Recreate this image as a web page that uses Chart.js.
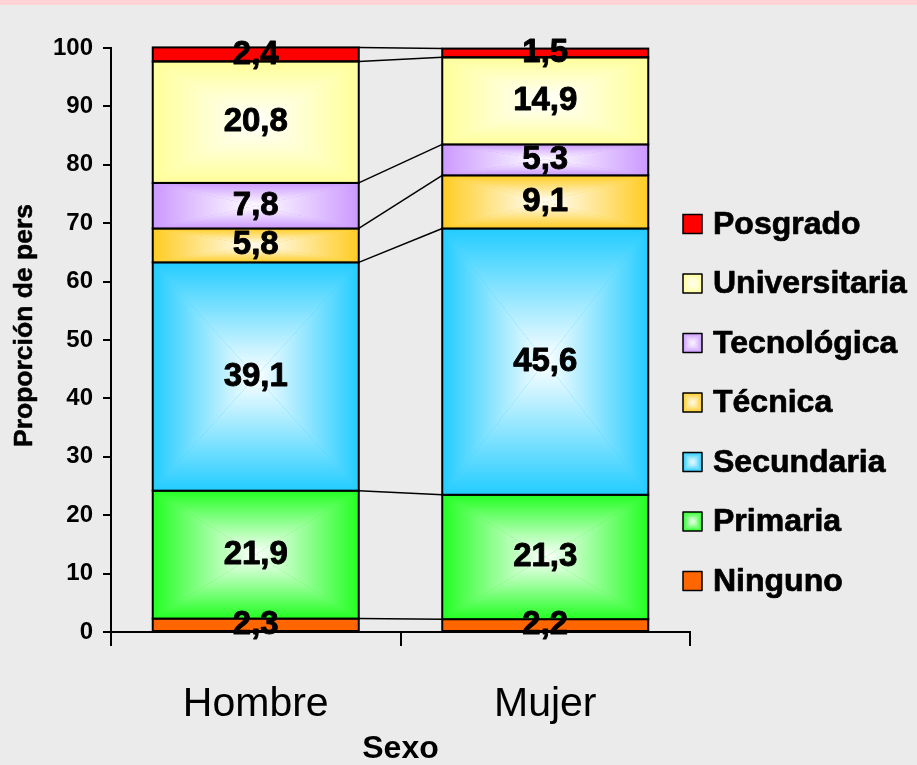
<!DOCTYPE html>
<html>
<head>
<meta charset="utf-8">
<script src="https://cdn.jsdelivr.net/npm/chart.js@4.4.0/dist/chart.umd.min.js"></script>
<style>
  html, body { margin: 0; padding: 0; background: #ebebeb; }
  #wrap { width: 917px; height: 765px; }
</style>
</head>
<body>
<div id="wrap"><canvas id="myChart" width="917" height="765"></canvas></div>
<script>
const categories = ['Hombre', 'Mujer'];
const niveles = ['Ninguno', 'Primaria', 'Secundaria', 'Técnica', 'Tecnológica', 'Universitaria', 'Posgrado'];
const hombre = [2.3, 21.9, 39.1, 5.8, 7.8, 20.8, 2.4];
const mujer = [2.2, 21.3, 45.6, 9.1, 5.3, 14.9, 1.5];
const colores = ['#FF6600', '#22FF22', '#22CCFF', '#FFCC22', '#CC99FF', '#FFFF99', '#FF0000'];
const degradado = [false, true, true, true, true, true, false];
const yTicks = [0, 10, 20, 30, 40, 50, 60, 70, 80, 90, 100];
const yTitle = 'Proporción de personas';
const xTitle = 'Sexo';

const FONT = "'Liberation Sans', Arial, sans-serif";

// rectangular "from centre" gradient: white in the middle, colour at the edges
function rectGradient(ctx, x0, y0, x1, y1, color) {
  const cx = (x0 + x1) / 2, cy = (y0 + y1) / 2;
  ctx.fillStyle = color;
  ctx.fillRect(x0, y0, x1 - x0, y1 - y0);
  const tris = [
    [x0, y0, x1, y0, cx, y0],
    [x1, y1, x0, y1, cx, y1],
    [x0, y1, x0, y0, x0, cy],
    [x1, y0, x1, y1, x1, cy]
  ];
  tris.forEach(t => {
    const g = ctx.createLinearGradient(cx, cy, t[4], t[5]);
    g.addColorStop(0, '#ffffff');
    g.addColorStop(1, color);
    ctx.fillStyle = g;
    ctx.beginPath();
    ctx.moveTo(cx, cy);
    ctx.lineTo(t[0], t[1]);
    ctx.lineTo(t[2], t[3]);
    ctx.closePath();
    ctx.fill();
  });
}

// bold text with a little extra weight, like the original rendering
function heavyText(ctx, txt, x, y, w) {
  ctx.lineWidth = w;
  ctx.strokeStyle = '#000';
  ctx.lineJoin = 'round';
  ctx.strokeText(txt, x, y);
  ctx.fillText(txt, x, y);
}

const fondo = {
  id: 'fondo',
  beforeDraw(chart) {
    const {ctx, width, height} = chart;
    ctx.save();
    ctx.fillStyle = '#ebebeb';
    ctx.fillRect(0, 0, width, height);
    ctx.fillStyle = '#ffd3d3';
    ctx.fillRect(0, 0, width, 5);
    ctx.restore();
  }
};

const barras = {
  id: 'barras',
  afterDatasetsDraw(chart) {
    const {ctx} = chart;
    ctx.save();
    // gradient fill + outline on each segment
    chart.data.datasets.forEach((ds, di) => {
      const meta = chart.getDatasetMeta(di);
      meta.data.forEach(bar => {
        const {x, y, base, width} = bar.getProps(['x', 'y', 'base', 'width'], true);
        const x0 = x - width / 2, x1 = x + width / 2;
        const top = Math.min(y, base), bot = Math.max(y, base);
        if (degradado[di]) rectGradient(ctx, x0, top, x1, bot, colores[di]);
        ctx.strokeStyle = '#000';
        ctx.lineWidth = 2;
        ctx.strokeRect(x0, top, x1 - x0, bot - top);
      });
    });
    // series lines between the two columns
    ctx.strokeStyle = '#000';
    ctx.lineWidth = 1.5;
    chart.data.datasets.forEach((ds, di) => {
      const d = chart.getDatasetMeta(di).data;
      const a = d[0], b = d[1];
      ctx.beginPath();
      ctx.moveTo(a.x + a.width / 2, a.y);
      ctx.lineTo(b.x - b.width / 2, b.y);
      ctx.stroke();
    });
    // value labels
    ctx.fillStyle = '#000';
    ctx.font = 'bold 33px ' + FONT;
    ctx.textAlign = 'center';
    ctx.textBaseline = 'middle';
    chart.data.datasets.forEach((ds, di) => {
      chart.getDatasetMeta(di).data.forEach((bar, i) => {
        const txt = ds.data[i].toFixed(1).replace('.', ',');
        heavyText(ctx, txt, bar.x, (bar.y + bar.base) / 2, 0.9);
      });
    });
    ctx.restore();
  }
};

const leyenda = {
  id: 'leyenda',
  afterDraw(chart) {
    const {ctx} = chart;
    ctx.save();
    const n = chart.data.datasets.length;
    for (let k = 0; k < n; k++) {
      const di = n - 1 - k;
      const cy = 224 + 59.5 * k;
      const bx = 683, bs = 19;
      if (degradado[di]) rectGradient(ctx, bx, cy - bs / 2, bx + bs, cy + bs / 2, colores[di]);
      else { ctx.fillStyle = colores[di]; ctx.fillRect(bx, cy - bs / 2, bs, bs); }
      ctx.strokeStyle = '#000';
      ctx.lineWidth = 1.5;
      ctx.strokeRect(bx, cy - bs / 2, bs, bs);
      ctx.fillStyle = '#000';
      ctx.font = 'bold 32px ' + FONT;
      ctx.textAlign = 'left';
      ctx.textBaseline = 'middle';
      heavyText(ctx, chart.data.datasets[di].label, 713, cy + 1, 0.7);
    }
    // y axis title, truncated at the top as in the original
    ctx.beginPath();
    ctx.rect(0, 205, 60, 400);
    ctx.clip();
    ctx.translate(32, 447);
    ctx.rotate(-Math.PI / 2);
    ctx.fillStyle = '#000';
    ctx.font = 'bold 26.5px ' + FONT;
    ctx.textAlign = 'left';
    ctx.textBaseline = 'alphabetic';
    heavyText(ctx, yTitle, 0, 0, 0.5);
    ctx.restore();
  }
};

const datasets = niveles.map((nivel, i) => ({
  label: nivel,
  data: [hombre[i], mujer[i]],
  backgroundColor: colores[i],
  borderWidth: 0,
  categoryPercentage: 1,
  barPercentage: 0.7116
}));

const config = {
  type: 'bar',
  data: { labels: categories, datasets },
  options: {
    responsive: false,
    animation: false,
    layout: { padding: { top: 48, right: 227, left: 0, bottom: 0 } },
    plugins: {
      legend: { display: false },
      tooltip: { enabled: false }
    },
    scales: {
      x: {
        stacked: true,
        offset: true,
        grid: { drawOnChartArea: false, offset: true, tickLength: 14, color: '#000', lineWidth: 2 },
        border: { color: '#000', width: 2 },
        ticks: { color: '#000', padding: 38, font: { family: FONT, size: 41, lineHeight: 1 } },
        title: {
          display: true, text: xTitle, color: '#000',
          font: { family: FONT, size: 32, weight: 'bold', lineHeight: 1 },
          padding: { top: 0, bottom: 0 }
        },
        afterFit(scale) { scale.height = 133; }
      },
      y: {
        stacked: true,
        min: 0,
        max: 100,
        afterBuildTicks(scale) { scale.ticks = yTicks.map(v => ({ value: v })); },
        grid: { drawOnChartArea: false, tickLength: 8, color: '#000', lineWidth: 2 },
        border: { color: '#000', width: 2 },
        ticks: { color: '#000', padding: 10, font: { family: FONT, size: 24, weight: 'bold' } },
        afterFit(scale) { scale.width = 111; }
      }
    }
  },
  plugins: [fondo, barras, leyenda]
};

const myChart = new Chart(document.getElementById('myChart'), config);
</script>
</body>
</html>
